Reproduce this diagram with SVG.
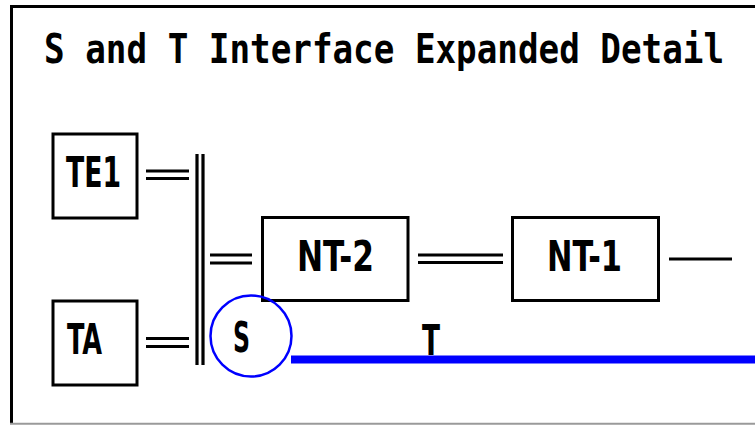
<svg xmlns="http://www.w3.org/2000/svg" width="755" height="425" viewBox="0 0 755 425">
  <style>
    .box { fill: #ffffff; stroke: #000000; stroke-width: 3; }
    .wire { stroke: #000000; stroke-width: 3.2; fill: none; }
    .label { font-family: "DejaVu Sans Condensed", "DejaVu Sans", sans-serif; font-weight: bold; font-size: 43px; fill: #000000; }
    .title { font-family: "DejaVu Sans Mono", "Liberation Mono", monospace; font-weight: bold; font-size: 33px; fill: #000000; }
  </style>

  <rect x="0" y="0" width="755" height="425" fill="#ffffff"/>

  <!-- frame -->
  <g id="frame">
    <path d="M11.5 424 V6.5 H755" fill="none" stroke="#000000" stroke-width="3"/>
    <line x1="10" y1="423.8" x2="755" y2="423.8" stroke="#9a9a9a" stroke-width="2"/>
  </g>

  <!-- heading, stretched vertically for tall narrow letters -->
  <text id="title" class="title" transform="translate(44 63) scale(1 1.25)" x="0" y="0" textLength="680" lengthAdjust="spacingAndGlyphs">S and T Interface Expanded Detail</text>

  <!-- connectors -->
  <g id="connectors">
    <!-- TE1 to bus -->
    <line class="wire" x1="146" y1="171" x2="189" y2="171"/>
    <line class="wire" x1="146" y1="178.5" x2="189" y2="178.5"/>
    <!-- TA to bus -->
    <line class="wire" x1="146" y1="338.5" x2="189" y2="338.5"/>
    <line class="wire" x1="146" y1="346.5" x2="189" y2="346.5"/>
    <!-- vertical double bus -->
    <line class="wire" x1="197" y1="154" x2="197" y2="365"/>
    <line class="wire" x1="203" y1="154" x2="203" y2="365"/>
    <!-- bus to NT-2 -->
    <line class="wire" x1="210" y1="255" x2="252" y2="255"/>
    <line class="wire" x1="210" y1="263" x2="252" y2="263"/>
    <!-- NT-2 to NT-1 -->
    <line class="wire" x1="418" y1="255" x2="503" y2="255"/>
    <line class="wire" x1="418" y1="262.5" x2="503" y2="262.5"/>
    <!-- NT-1 onward -->
    <line class="wire" x1="669" y1="259" x2="732" y2="259"/>
    <!-- T reference line -->
    <line x1="291" y1="359.5" x2="755" y2="359.5" stroke="#0000ff" stroke-width="8"/>
  </g>

  <g id="te1">
    <rect class="box" x="53" y="134" width="84" height="84"/>
    <text class="label" x="66" y="187" textLength="55" lengthAdjust="spacingAndGlyphs">TE1</text>
  </g>

  <g id="ta">
    <rect class="box" x="53" y="301" width="84" height="84"/>
    <text class="label" x="67" y="354" textLength="35" lengthAdjust="spacingAndGlyphs">TA</text>
  </g>

  <g id="nt2">
    <rect class="box" x="262.5" y="217.5" width="145.5" height="83"/>
    <text class="label" x="297" y="271" textLength="77" lengthAdjust="spacingAndGlyphs">NT-2</text>
  </g>

  <g id="nt1">
    <rect class="box" x="512.5" y="217.5" width="146" height="83"/>
    <text class="label" x="547" y="271" textLength="75" lengthAdjust="spacingAndGlyphs">NT-1</text>
  </g>

  <g id="s-point">
    <circle cx="251" cy="336" r="40.5" fill="none" stroke="#0000ff" stroke-width="2.5"/>
    <text class="label" x="233" y="352" textLength="17" lengthAdjust="spacingAndGlyphs">S</text>
  </g>

  <g id="t-point">
    <text class="label" x="422" y="355" textLength="18" lengthAdjust="spacingAndGlyphs">T</text>
  </g>
</svg>
